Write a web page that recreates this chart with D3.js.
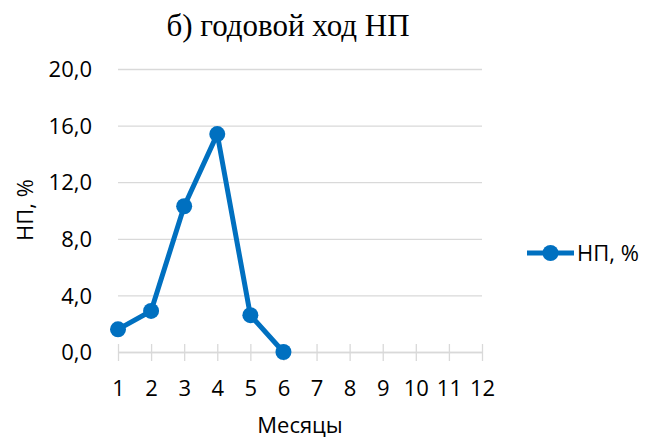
<!DOCTYPE html>
<html>
<head>
<meta charset="utf-8">
<script src="https://cdn.jsdelivr.net/npm/d3@7"></script>
<style>
  body { margin: 0; background: #fff; }
  svg text { font-family: "Open Sans", sans-serif; fill: #000; }
</style>
</head>
<body>
<div id="chart"></div>
<script>
// data
const months = [1, 2, 3, 4, 5, 6, 7, 8, 9, 10, 11, 12];
const npMonths = [1, 2, 3, 4, 5, 6];
const npValues = [1.6, 2.9, 10.3, 15.4, 2.6, 0.0];
const yTicks = [0, 4, 8, 12, 16, 20];
const seriesName = "НП, %";

const W = 645, H = 438;
const svg = d3.select("#chart").append("svg").attr("width", W).attr("height", H);

// scales
const x = d3.scalePoint().domain(months).range([118, 482]);
const y = d3.scaleLinear().domain([0, 20]).range([352, 69]);

const blue = "#0070C0";
const grid = "#d9d9d9";
const fs = "22px";

// title
svg.append("text")
    .attr("x", 288).attr("y", 36)
    .attr("text-anchor", "middle")
    .style("font-family", "'Liberation Serif', 'Times New Roman', serif")
    .style("font-size", "31px")
    .text("б) годовой ход НП");

// horizontal gridlines + y labels
const yAxis = svg.append("g").attr("transform", "translate(118,0)")
    .call(d3.axisLeft(y).tickValues(yTicks).tickSize(-364).tickPadding(26)
        .tickFormat((d) => d3.format(".1f")(d).replace(".", ",")));
yAxis.select(".domain").remove();
yAxis.selectAll("line").attr("stroke", grid).attr("stroke-width", 1.3);
yAxis.selectAll("text").style("font-size", fs).attr("dy", "0.35em");

// x axis with crossing tick marks
const xAxis = svg.append("g").attr("transform", "translate(0,352)")
    .call(d3.axisBottom(x).tickSizeInner(9).tickSizeOuter(0).tickPadding(20));
xAxis.select(".domain").attr("stroke", grid).attr("stroke-width", 1.3);
xAxis.selectAll("line").attr("stroke", grid).attr("stroke-width", 1.3).attr("y1", -8);
xAxis.selectAll("text").style("font-size", fs).attr("dy", "0.7em");

// axis titles
svg.append("text")
    .attr("transform", "translate(33,210) rotate(-90)")
    .attr("text-anchor", "middle")
    .style("font-size", fs)
    .text("НП, %");
svg.append("text")
    .attr("x", 300).attr("y", 433)
    .attr("text-anchor", "middle")
    .style("font-size", fs)
    .text("Месяцы");

// series
const pts = npMonths.map((m, i) => ({ m: m, v: npValues[i] }));
svg.append("path")
    .datum(pts)
    .attr("fill", "none")
    .attr("stroke", blue)
    .attr("stroke-width", 5)
    .attr("stroke-linejoin", "round")
    .attr("d", d3.line().x((d) => x(d.m)).y((d) => y(d.v)));
svg.selectAll(".dot")
    .data(pts)
    .enter()
    .append("circle")
    .attr("class", "dot")
    .attr("cx", (d) => x(d.m))
    .attr("cy", (d) => y(d.v))
    .attr("r", 8)
    .attr("fill", blue);

// legend
const lg = svg.append("g").attr("transform", "translate(527,253)");
lg.append("line").attr("x1", 0).attr("x2", 47).attr("stroke", blue).attr("stroke-width", 5);
lg.append("circle").attr("cx", 23.5).attr("r", 8).attr("fill", blue);
lg.append("text").attr("x", 50).attr("dy", "0.35em").style("font-size", fs).text(seriesName);
</script>
</body>
</html>
